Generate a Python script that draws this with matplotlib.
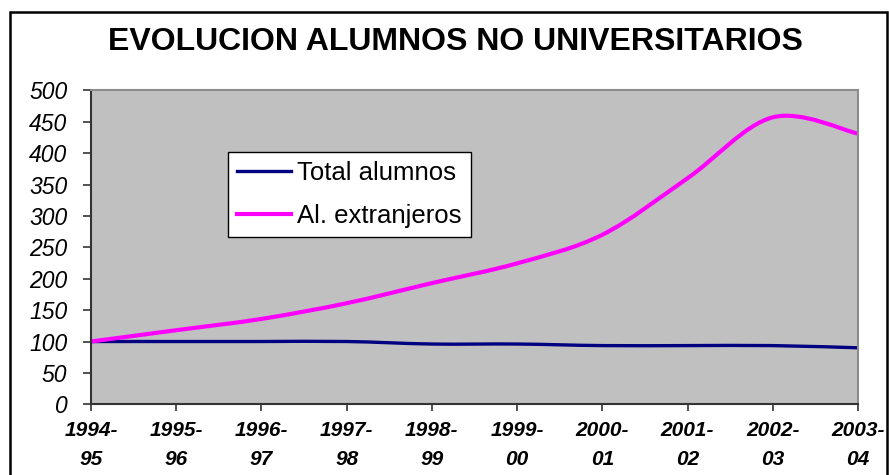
import numpy as np
import matplotlib
matplotlib.use('Agg')
import matplotlib.pyplot as plt
from matplotlib.path import Path
from matplotlib.patches import PathPatch, Rectangle
from matplotlib.lines import Line2D

plt.rcParams['font.family'] = ['Liberation Sans', 'DejaVu Sans']

# data (index, 1994-95 = 100)
years = ['1994-\n95', '1995-\n96', '1996-\n97', '1997-\n98', '1998-\n99',
         '1999-\n00', '2000-\n01', '2001-\n02', '2002-\n03', '2003-\n04']
total_alumnos = [100, 100, 100, 100, 96, 96, 93.5, 93.5, 93.5, 90]
al_extranjeros = [100, 118, 136, 161, 193, 224.5, 270, 360, 457, 431]

navy = '#000080'
magenta = '#FF00FF'


def smooth_path(xs, ys):
    # excel style smoothed line: cubic bezier through each point
    pts = np.column_stack([xs, ys]).astype(float)
    n = len(pts)
    verts = [pts[0]]
    codes = [Path.MOVETO]
    for i in range(n - 1):
        p0 = pts[max(i - 1, 0)]
        p1 = pts[i]
        p2 = pts[i + 1]
        p3 = pts[min(i + 2, n - 1)]
        c1 = p1 + (p2 - p0) / 6
        c2 = p2 - (p3 - p1) / 6
        verts += [c1, c2, p2]
        codes += [Path.CURVE4] * 3
    return Path(verts, codes)


fig = plt.figure(figsize=(8.89, 4.75), dpi=100)
ax = fig.add_axes([0.1024, 0.1488, 0.8627, 0.6611])
ax.set_facecolor('#C0C0C0')

x = np.arange(len(years))
for vals, col, lw in [(total_alumnos, navy, 2.4), (al_extranjeros, magenta, 3.0)]:
    ax.add_patch(PathPatch(smooth_path(x, vals), facecolor='none',
                           edgecolor=col, lw=lw, capstyle='butt'))

ax.set_xlim(0, len(years) - 1)
ax.set_ylim(0, 500)
ax.set_yticks(np.arange(0, 501, 50))
ax.set_xticks(x)
ax.set_xticklabels(years, fontsize=15, fontweight='bold', fontstyle='italic',
                   linespacing=1.65)
ax.tick_params(axis='y', labelsize=16.5, length=6, width=1.2, pad=11,
               color='#333333')
ax.tick_params(axis='x', length=5, width=1.2, pad=7, color='#333333')
for lab in ax.get_yticklabels():
    lab.set_fontstyle('italic')

for s in ['left', 'bottom']:
    ax.spines[s].set_color('#333333')
    ax.spines[s].set_linewidth(1.5)
for s in ['top', 'right']:
    ax.spines[s].set_color('#8C8C8C')
    ax.spines[s].set_linewidth(1.5)

handles = [Line2D([], [], color=navy, lw=2.4),
           Line2D([], [], color=magenta, lw=3.0)]
leg = ax.legend(handles, ['Total alumnos', 'Al. extranjeros'],
                loc='upper left', bbox_to_anchor=(0.1786, 0.8035),
                borderaxespad=0, fontsize=18.5, fancybox=False, framealpha=1,
                edgecolor='black', handlelength=2.1, handletextpad=0.25,
                labelspacing=0.75, borderpad=0.35)
leg.get_frame().set_linewidth(1.0)

fig.text(0.512, 0.911, 'EVOLUCION ALUMNOS NO UNIVERSITARIOS', ha='center',
         va='center', fontsize=23, fontweight='bold')

# border round the chart
fig.patches.append(Rectangle((0.0113, -0.05), 0.9865, 1.0247, fill=False,
                             edgecolor='black', lw=1.8,
                             transform=fig.transFigure))

fig.savefig('out.png', dpi=100)
